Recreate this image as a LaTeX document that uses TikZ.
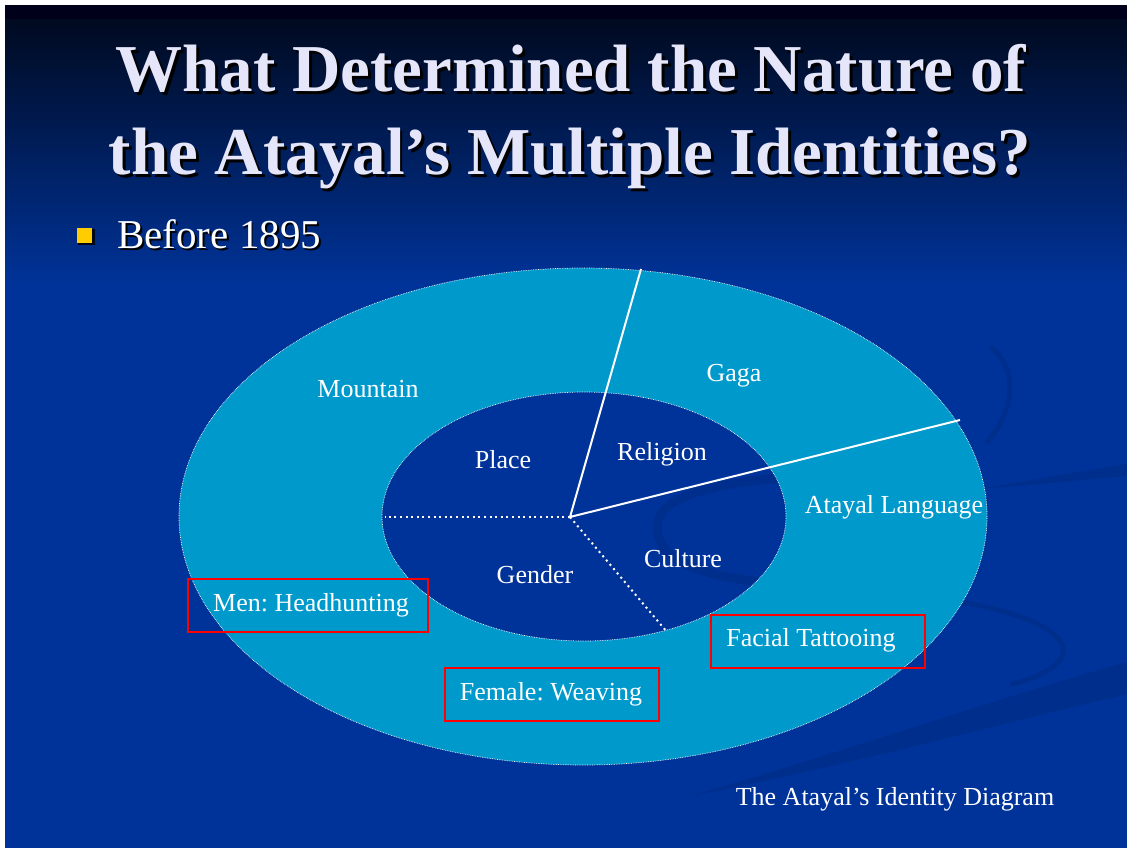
\documentclass[tikz,border=0pt]{standalone}
\usepackage{fontspec}
\setmainfont{Liberation Serif}
\frenchspacing
\definecolor{slideblue}{HTML}{003399}
\definecolor{topdark}{HTML}{000A20}
\definecolor{barblack}{HTML}{00001A}
\definecolor{ringcyan}{HTML}{0099CC}
\definecolor{titlefg}{HTML}{E6E6FA}
\definecolor{swooshblue}{HTML}{002E8C}
\definecolor{bulletyellow}{HTML}{FFCC00}
% text with a dark drop shadow, set within one box
\newcommand{\shadowed}[3]{\makebox[0pt][l]{\hspace*{#1}\raisebox{-#1}{\color{black}#2}}{\color{#3}#2}}
\begin{document}
\begin{tikzpicture}[x=1pt,y=-1pt,
  titletext/.style={font=\fontsize{67}{80}\selectfont\bfseries, inner sep=0pt, anchor=base},
  bullettext/.style={font=\fontsize{41}{48}\selectfont, inner sep=0pt, anchor=base west},
  lbl/.style={text=white, font=\fontsize{26}{30}\selectfont, inner sep=0pt, anchor=base},
  tagbox/.style={draw=red, line width=2pt},
  spoke/.style={draw=white, line width=2pt, line join=miter},
  dotspoke/.style={draw=white, line width=2pt, dash pattern=on 2pt off 3.6pt},
  rim/.style={draw=white, line width=0.7pt, dash pattern=on 0.7pt off 1pt},
  swoosh/.style={draw=swooshblue, line cap=round},
]
\useasboundingbox (0,0) rectangle (1127,848);

% page and slide background
\fill[white] (0,0) rectangle (1127,848);
\fill[slideblue] (5,5) rectangle (1127,848);
\shade[top color=topdark, bottom color=slideblue] (5,19) rectangle (1127,285);
\fill[barblack] (5,5) rectangle (1127,19);

% darker decorative swooshes of the slide design
\fill[swooshblue] (690,796) .. controls (850,750) and (1000,697) .. (1127,662)
  -- (1127,694) .. controls (1000,724) and (850,765) .. cycle;
\fill[swooshblue] (985,488) .. controls (1040,478) and (1090,470) .. (1127,464)
  -- (1127,476) .. controls (1080,480) and (1030,486) .. cycle;
\draw[swoosh, line width=9pt] (780,478) .. controls (700,485) and (655,500) .. (657,530)
  .. controls (660,560) and (700,575) .. (760,582);
\draw[swoosh, line width=5pt] (960,602) .. controls (1040,615) and (1075,640) .. (1060,660)
  .. controls (1050,672) and (1030,680) .. (1012,684);
\draw[swoosh, line width=5pt] (992,348) .. controls (1018,370) and (1015,410) .. (987,442);

% identity ring: outer layer with the inner core left open
\path[fill=ringcyan, even odd rule]
  (583,516.5) ellipse [x radius=404, y radius=248.5]
  (584,516.5) ellipse [x radius=202, y radius=124.5];
\draw[rim] (583,516.5) ellipse [x radius=404, y radius=248.5];
\draw[rim] (584,516.5) ellipse [x radius=202, y radius=124.5];

% sector dividers
\coordinate (hub) at (570,517);
\coordinate (topend) at (641,269);
\coordinate (rightend) at (960,420);
\coordinate (leftend) at (385,517);
\coordinate (lowend) at (667,632);
\draw[spoke] (topend) -- (hub) -- (rightend);
\draw[dotspoke] (hub) -- (leftend);
\draw[dotspoke] (hub) -- (lowend);

% title
\node[titletext] (t1) at (571,92) {\shadowed{3pt}{What Determined the Nature of}{titlefg}};
\node[titletext] (t2) at (570,175) {\shadowed{3pt}{the Atayal’s Multiple Identities?}{titlefg}};

% bullet line
\fill[black!85!slideblue] (78,229) rectangle (95,245);
\node[fill=bulletyellow, inner sep=0pt, minimum size=15pt, anchor=north west] (bullet) at (77,228) {};
\node[bullettext] (b1) at (117,248) {\shadowed{2pt}{Before 1895}{white}};

% ring labels
\node[lbl] (mountain) at (368,397) {Mountain};
\node[lbl] (gaga) at (734,381) {Gaga};
\node[lbl] (place) at (503,468) {Place};
\node[lbl] (religion) at (662,460) {Religion};
\node[lbl] (language) at (894,513) {Atayal Language};
\node[lbl] (gender) at (535,583) {Gender};
\node[lbl] (culture) at (683,567) {Culture};
\node[lbl] (men) at (311,611) {Men: Headhunting};
\node[lbl] (female) at (551,700) {Female: Weaving};
\node[lbl] (facial) at (811,646) {Facial Tattooing};

% highlighted practices
\draw[tagbox] (188,579) rectangle (428,632);
\draw[tagbox] (445,668) rectangle (659,721);
\draw[tagbox] (711,615) rectangle (925,668);

% caption
\node[lbl] (caption) at (895,805) {The Atayal’s Identity Diagram};
\end{tikzpicture}
\end{document}
